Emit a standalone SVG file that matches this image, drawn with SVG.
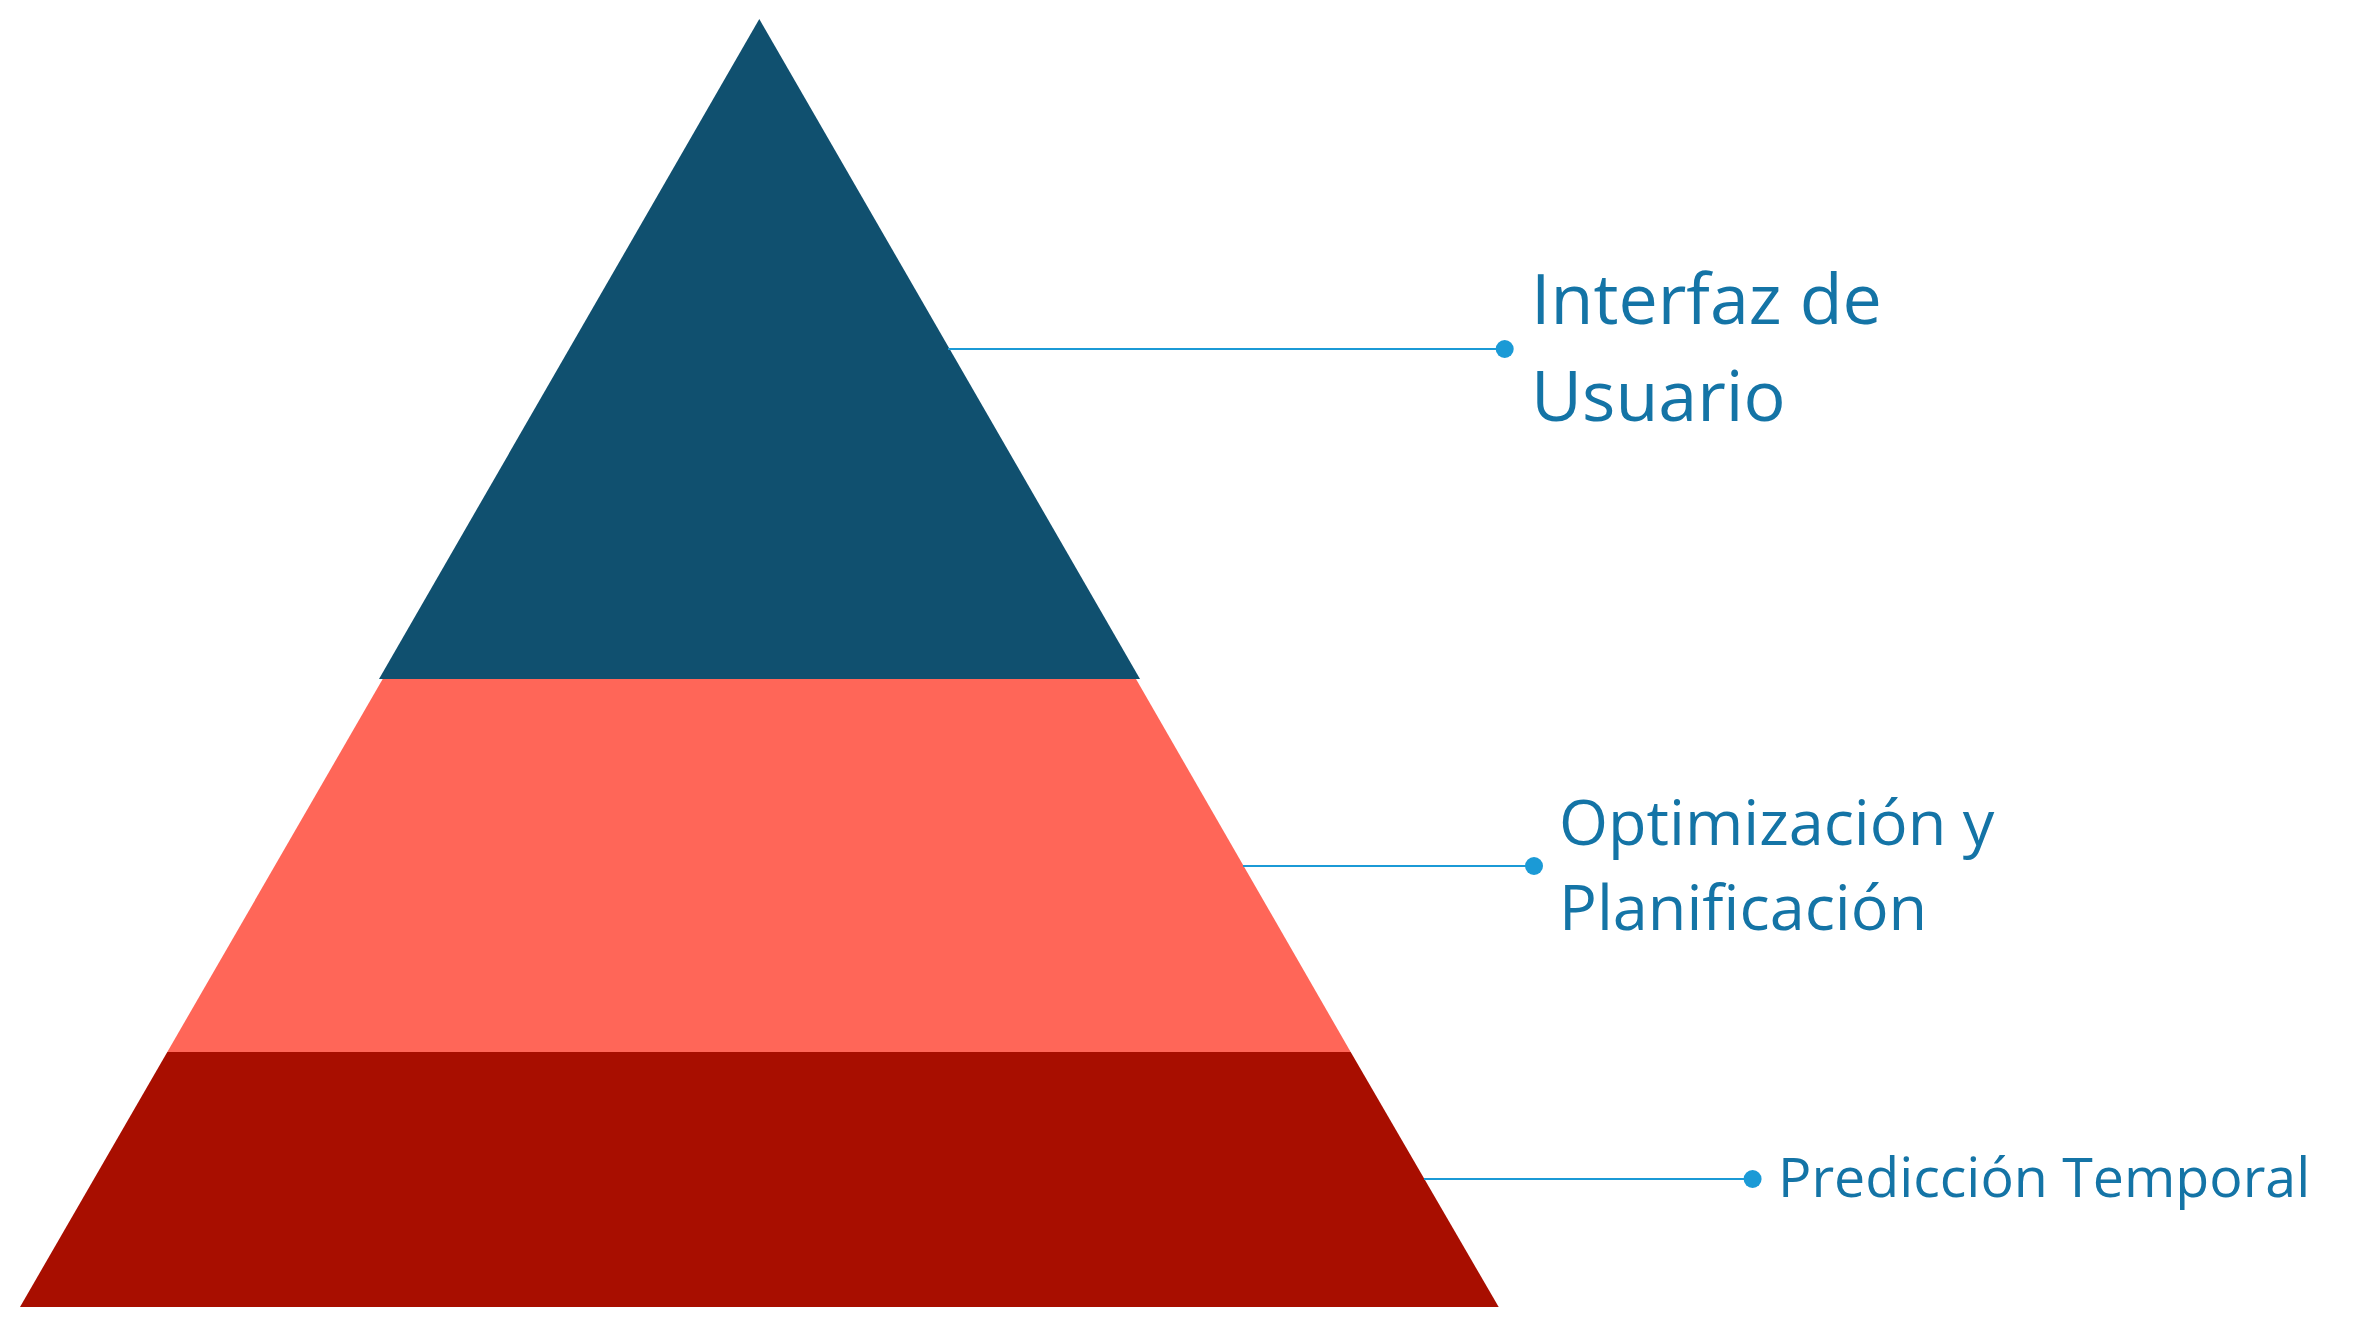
<svg xmlns="http://www.w3.org/2000/svg" width="2365" height="1328" viewBox="0 0 2365 1328">
  <style>
    .label { font-family: "Open Sans", "Noto Sans", "Liberation Sans", sans-serif; fill: #1474A6; }
    .leader { stroke: #1B9AD6; stroke-width: 2; fill: none; }
    .dot { fill: #1B9AD6; }
  </style>
  <rect width="2365" height="1328" fill="#FFFFFF"/>

  <!-- pyramid tiers -->
  <g id="tier-base">
    <polygon points="167.3,1052 1350.7,1052 1498.7,1307 20,1307" fill="#A80E00"/>
  </g>
  <g id="tier-middle">
    <polygon points="382.7,679 1136,679 1350.7,1052 167.3,1052" fill="#FF6658"/>
  </g>
  <g id="tier-top">
    <polygon points="759.3,19 1140,679 379,679" fill="#10506F"/>
  </g>

  <!-- leader lines to the labels -->
  <g id="connectors">
    <line class="leader" x1="948" y1="349" x2="1504.7" y2="349"/>
    <circle class="dot" cx="1504.7" cy="349" r="9"/>
    <line class="leader" x1="1243" y1="866" x2="1534" y2="866"/>
    <circle class="dot" cx="1534" cy="866" r="9"/>
    <line class="leader" x1="1424" y1="1179" x2="1752.6" y2="1179"/>
    <circle class="dot" cx="1752.6" cy="1179" r="9"/>
  </g>

  <!-- labels -->
  <g id="label-interfaz">
    <text class="label" x="1531" y="324" font-size="70">Interfaz de</text>
    <text class="label" x="1531" y="421" font-size="70">Usuario</text>
  </g>
  <g id="label-optimizacion">
    <text class="label" x="1559" y="845" font-size="63">Optimización y</text>
    <text class="label" x="1559" y="930" font-size="63">Planificación</text>
  </g>
  <g id="label-prediccion">
    <text class="label" x="1778" y="1197" font-size="55.5">Predicción Temporal</text>
  </g>
</svg>
